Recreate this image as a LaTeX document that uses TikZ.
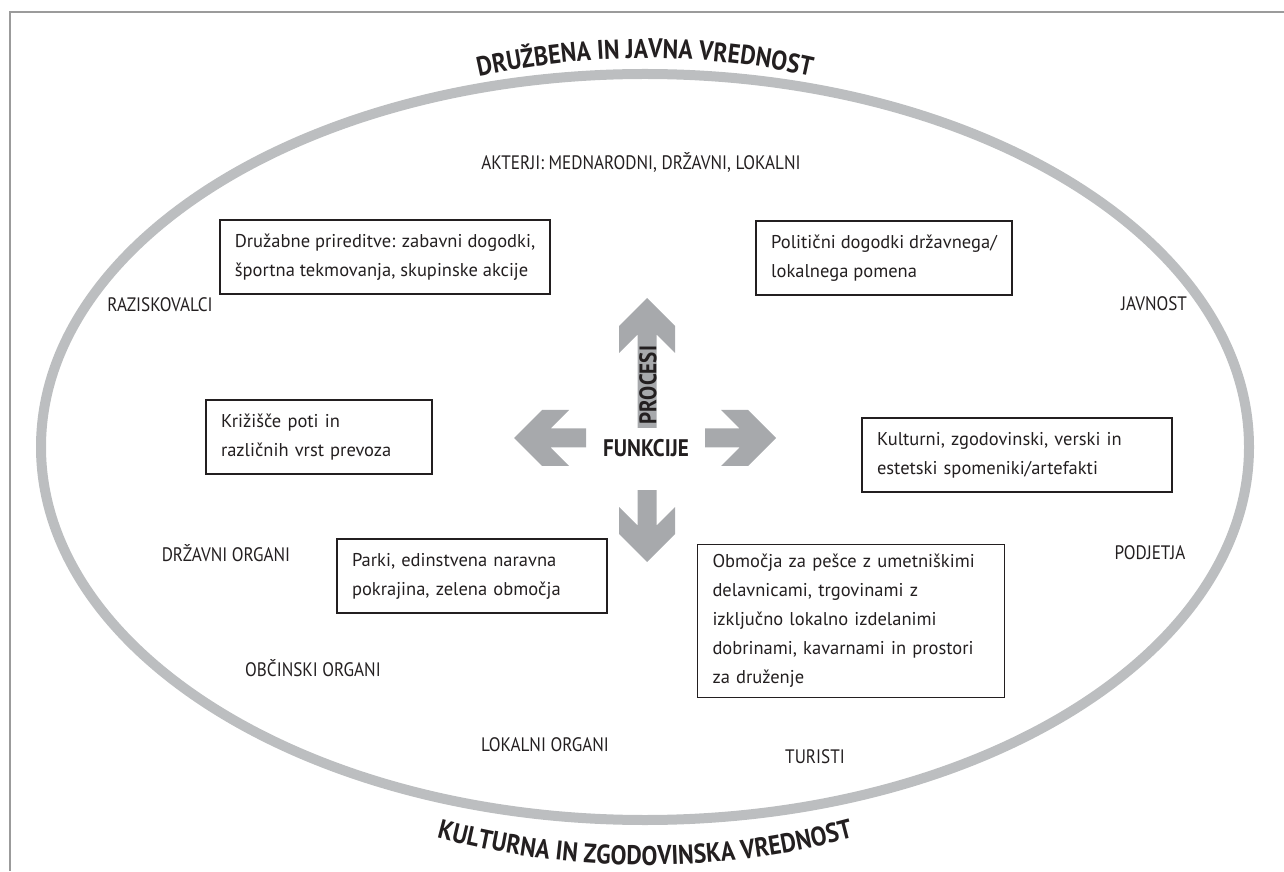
\documentclass[tikz,border=0pt]{standalone}
\usepackage{fontspec}
\setmainfont{PT Sans}
\newfontfamily\narrowfont[FakeStretch=0.88]{PT Sans}
\usetikzlibrary{decorations.text}
\definecolor{ringgray}{HTML}{BCBEC0}
\definecolor{arrowgray}{HTML}{A7A9AC}
\definecolor{framegray}{HTML}{9B9B9B}
\definecolor{ink}{HTML}{231F20}
\newcommand{\arcfont}{\narrowfont\fontsize{27}{27}\selectfont\bfseries}
% block arrow pointing along +x, tip at origin
\newcommand{\bigarrow}[1]{%
  \fill[arrowgray] (0,0) -- (-28,28) -- (-55,28) -- (-36.5,9.5) -- (-#1,9.5)
    -- (-#1,-9.5) -- (-36.5,-9.5) -- (-55,-28) -- (-28,-28) -- cycle;}

\begin{document}
\begin{tikzpicture}[x=1pt,y=1pt,
  every node/.style={text=ink,font=\fontsize{18.5}{29}\selectfont},
  who/.style={inner sep=0pt,font=\narrowfont\fontsize{19.5}{19.5}\selectfont},
  infobox/.style={draw=ink,line width=1.5,align=left,inner xsep=15,inner ysep=14},
  core/.style={inner sep=0pt,font=\narrowfont\fontsize{24}{24}\selectfont\bfseries}]
\useasboundingbox (0,0) rectangle (1284,871);
\draw[framegray,line width=2.5] (1284,859) -- (10,859) -- (10,0);

% ring and the two values
\draw[ringgray,line width=10] (645,424) ellipse[x radius=604,y radius=373];
\path[decorate,decoration={text along path,text align=center,text color=ink,
  text={|\arcfont|DRUŽBENA IN JAVNA VREDNOST}}]
  (645,63) ++(105:750) arc[start angle=105,end angle=75,radius=750];
\path[decorate,decoration={text along path,text align=center,text color=ink,
  text={|\arcfont|KULTURNA IN ZGODOVINSKA VREDNOST}}]
  (645,806) ++(252:800) arc[start angle=252,end angle=288,radius=800];

% arrows
\begin{scope}[shift={(647,573)},rotate=90] \bigarrow{130} \end{scope}
\begin{scope}[shift={(514,433)},rotate=180] \bigarrow{72} \end{scope}
\begin{scope}[shift={(776,433)}] \bigarrow{71} \end{scope}
\begin{scope}[shift={(647,309)},rotate=-90] \bigarrow{72} \end{scope}
\node[core] (funkcije) at (646,423) {FUNKCIJE};
\node[core,rotate=90] (procesi) at (648,486) {PROCESI};

% actors
\node[who] (akterji) at (641,709) {AKTERJI: MEDNARODNI, DRŽAVNI, LOKALNI};
\node[who] (razisk) at (160,566) {RAZISKOVALCI};
\node[who] (javnost) at (1154,567) {JAVNOST};
\node[who] (drzavni) at (226,318) {DRŽAVNI ORGANI};
\node[who] (podjetja) at (1150,318) {PODJETJA};
\node[who] (obcinski) at (313,203) {OBČINSKI ORGANI};
\node[who] (lokalni) at (545,126) {LOKALNI ORGANI};
\node[who] (turisti) at (815,114) {TURISTI};

% functions
\node[infobox] (druzabne) at (385,614) {Družabne prireditve: zabavni dogodki,\\športna tekmovanja, skupinske akcije};
\node[infobox] (politicni) at (884,613) {Politični dogodki državnega/\\lokalnega pomena};
\node[infobox,text width=196] (krizisce) at (319,434) {Križišče poti in\\različnih vrst prevoza};
\node[infobox,text width=280] (spomeniki) at (1017,416) {Kulturni, zgodovinski, verski in\\estetski spomeniki/artefakti};
\node[infobox,text width=240] (parki) at (472,295) {Parki, edinstvena naravna\\pokrajina, zelena območja};
\node[infobox,text width=277,inner ysep=10] (pesci) at (851,250) {Območja za pešce z umetniškimi\\delavnicami, trgovinami z\\izključno lokalno izdelanimi\\dobrinami, kavarnami in prostori\\za druženje};
\end{tikzpicture}
\end{document}
